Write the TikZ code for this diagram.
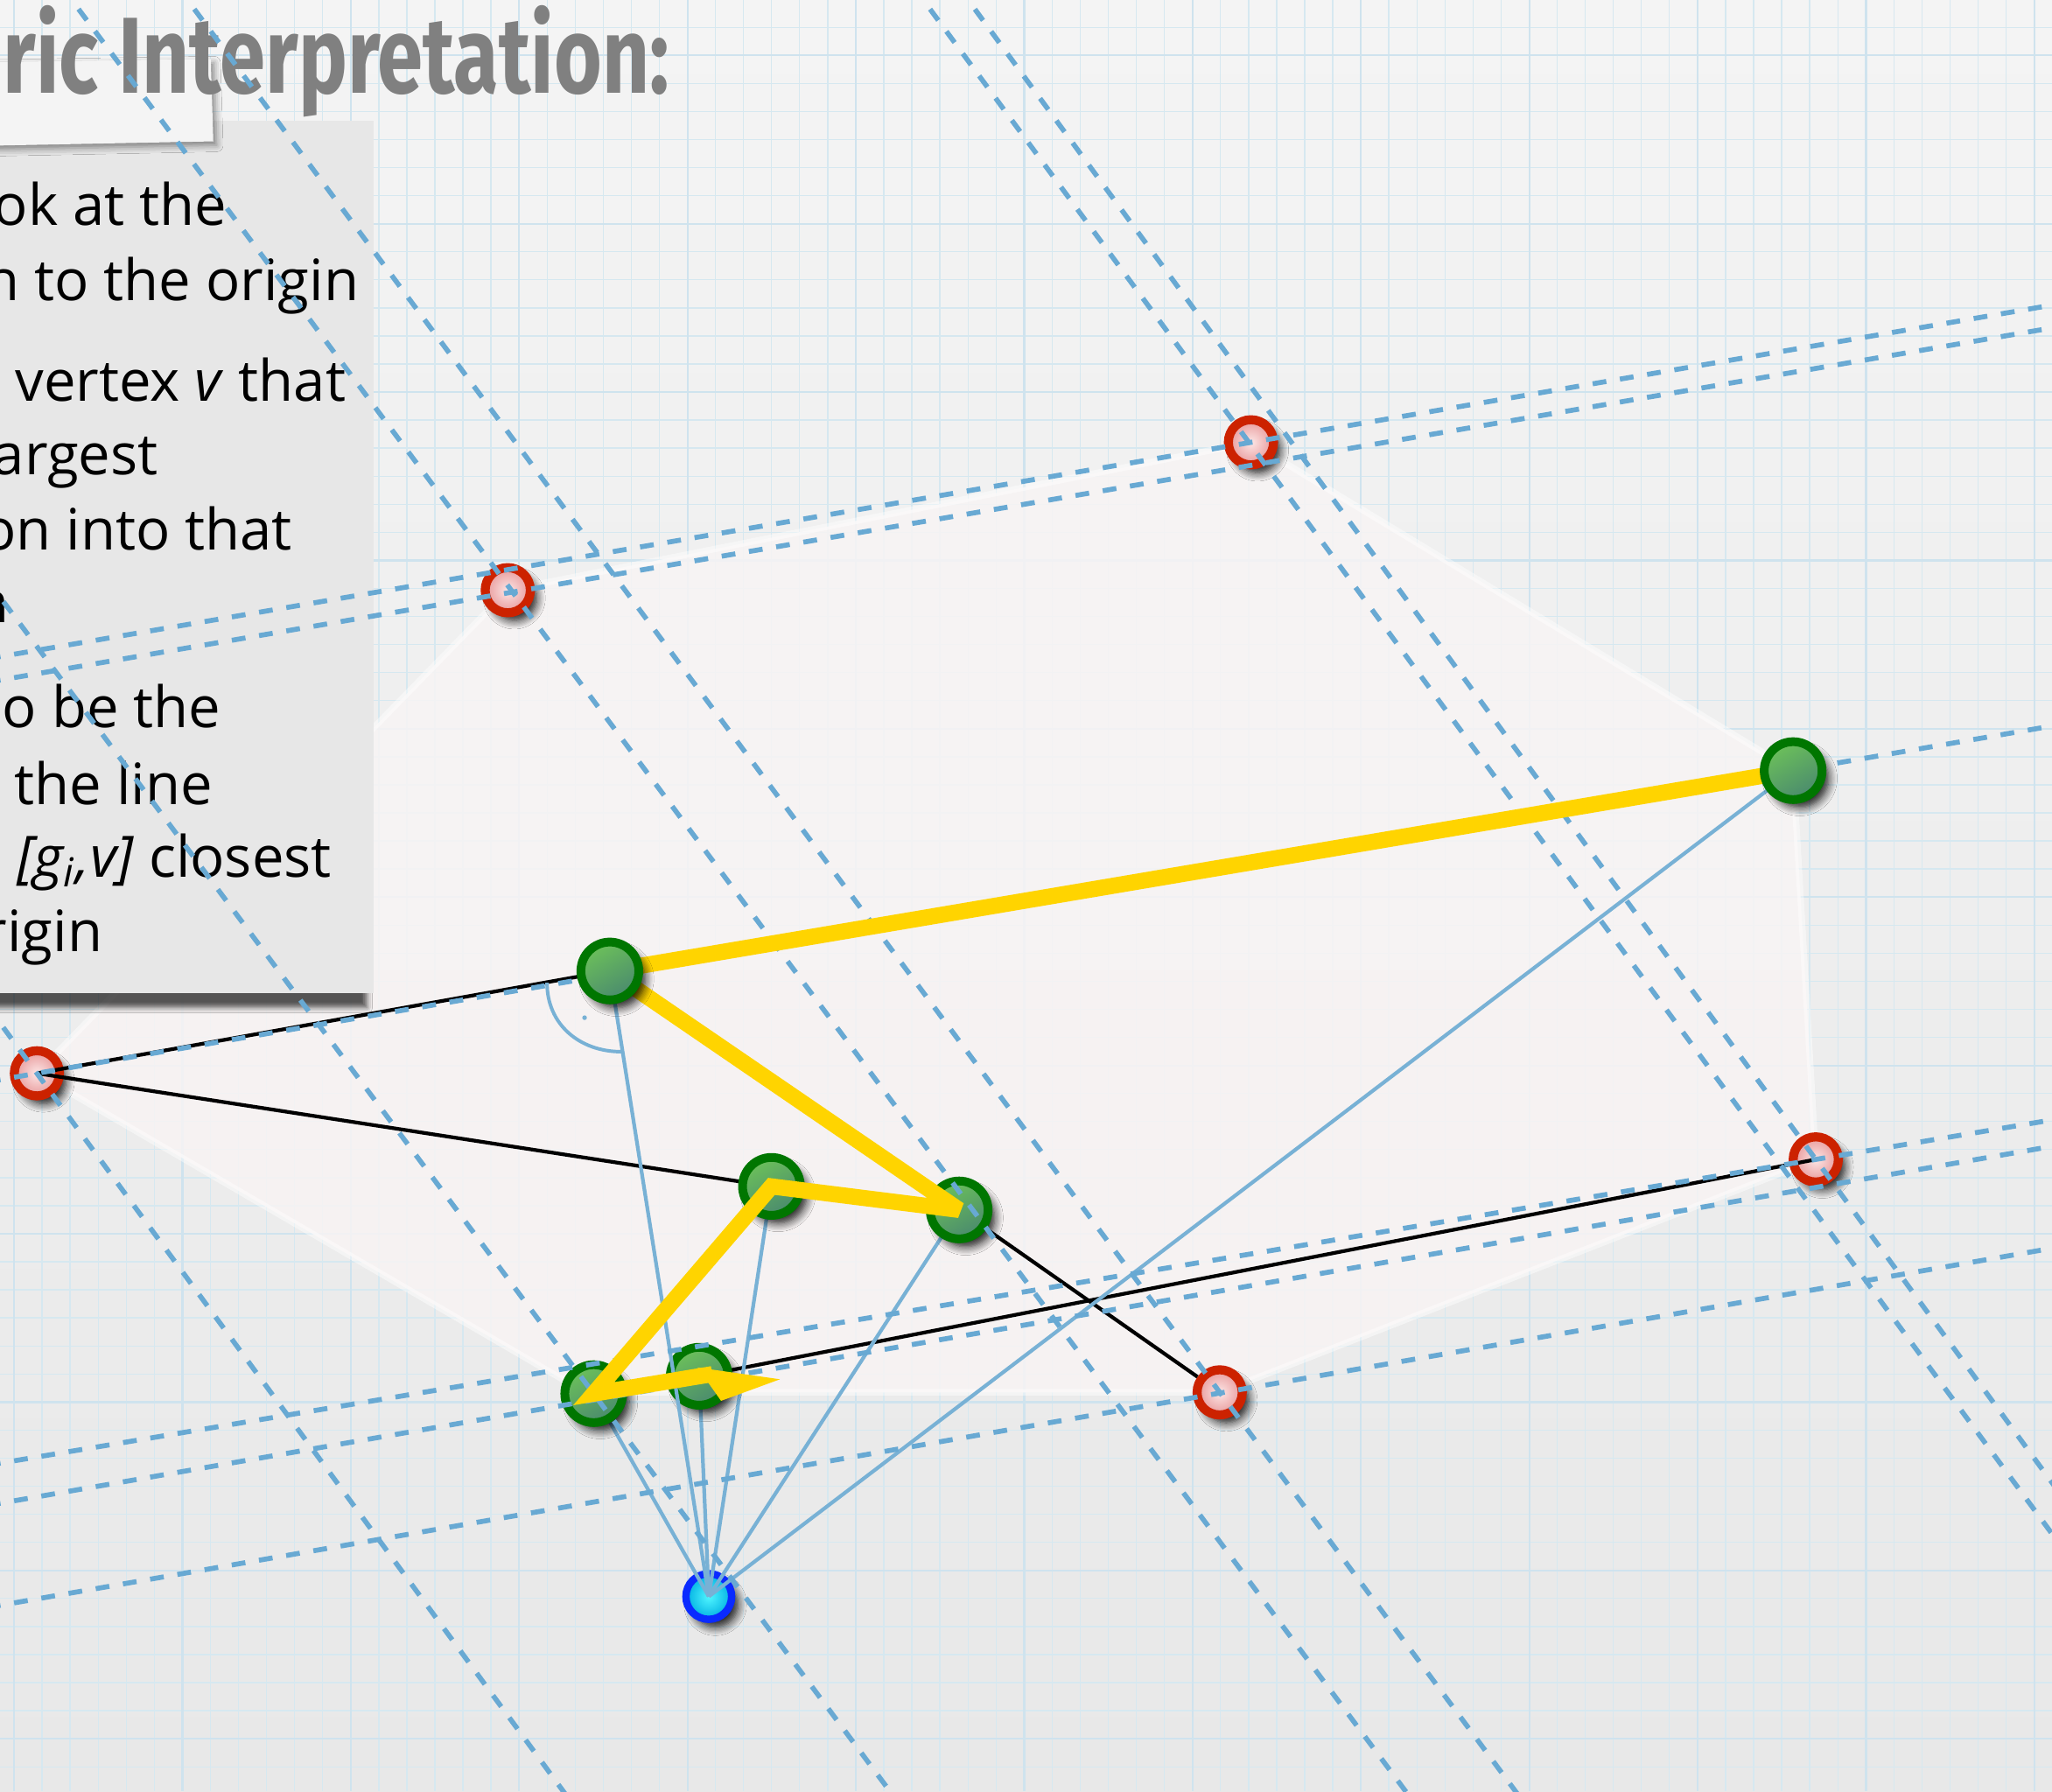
\documentclass[tikz,border=0pt]{standalone}
\usepackage{fontspec}
\newfontfamily\bodyfont{Open Sans}
\newfontfamily\titlefont{Fira Sans}
\usetikzlibrary{shadows.blur}
\definecolor{bgtop}{HTML}{F4F4F4}
\definecolor{bgbot}{HTML}{E8E8E8}
\definecolor{gridminor}{HTML}{D6E8F0}
\definecolor{gridmajor}{HTML}{CFE3EE}
\definecolor{dashblue}{HTML}{68A9D3}
\definecolor{lineblue}{HTML}{78B1D5}
\definecolor{hullfill}{HTML}{F8F4F4}
\definecolor{boxgrey}{HTML}{E7E7E7}
\definecolor{stripcol}{HTML}{F4F4F4}
\definecolor{titlegrey}{HTML}{808080}
\definecolor{gold}{HTML}{FFD400}
\definecolor{gring}{HTML}{007600}
\definecolor{glight}{HTML}{6CC05A}
\definecolor{gdark}{HTML}{4A8A6E}
\definecolor{rring}{HTML}{CC2200}
\definecolor{rlight}{HTML}{FCE6E6}
\definecolor{rdark}{HTML}{E8999A}
\definecolor{bring}{HTML}{0A2AFF}
\definecolor{blight}{HTML}{50F6FF}
\definecolor{bdark}{HTML}{00B0E2}
\begin{document}
\begin{tikzpicture}[x=0.01cm,y=-0.01cm,
  dashline/.style={draw=dashblue, line width=1.08pt, dash pattern=on 3pt off 3pt},
  solidblue/.style={draw=lineblue, line width=0.8pt},
  blackline/.style={draw=black, line width=0.8pt},
  goldpath/.style={draw=gold, line width=3.5pt, line join=miter, miter limit=4},
  nodeshadow/.style={blur shadow={shadow xshift=0.05cm, shadow yshift=-0.06cm, shadow blur radius=0.065cm, shadow opacity=90, shadow blur steps=8}},
  gnode/.style={circle, inner sep=0pt, minimum size=0.442cm, draw=gring, line width=1.9pt, top color=glight, bottom color=gdark, shading angle=30, nodeshadow},
  rnode/.style={circle, inner sep=0pt, minimum size=0.345cm, draw=rring, line width=1.96pt, shading=radial, inner color=rlight, outer color=rdark, nodeshadow},
  bnode/.style={circle, inner sep=0pt, minimum size=0.349cm, draw=bring, line width=1.6pt, shading=radial, inner color=blight, outer color=bdark, nodeshadow},
  bodytext/.style={anchor=base east, inner sep=0pt, font=\bodyfont\fontsize{12.4}{15}\selectfont}
]
\useasboundingbox (0,0) rectangle (1568,1369);
\clip (0,0) rectangle (1568,1369);
% background with graph paper grid
\shade[top color=bgtop, bottom color=bgbot] (0,0) rectangle (1568,1369);
\foreach \i in {0,...,73} \draw[gridminor, line width=0.26pt] ({10.7+21.44*\i},0) -- ({10.7+21.44*\i},1369);
\foreach \i in {0,...,64} \draw[gridminor, line width=0.26pt] (0,{20.86+21.44*\i}) -- (1568,{20.86+21.44*\i});
\foreach \i in {0,...,12} \draw[gridmajor, line width=0.42pt] ({10.7+128.65*\i},0) -- ({10.7+128.65*\i},1369);
\foreach \i in {0,...,10} \draw[gridmajor, line width=0.42pt] (0,{42.3+128.65*\i}) -- (1568,{42.3+128.65*\i});

% point positions
\coordinate (pO) at (541.6,1220);
\coordinate (pG1) at (466,742);
\coordinate (pG2) at (1370.2,588.9);
\coordinate (pG3) at (589.5,906.6);
\coordinate (pG4) at (732.9,924.6);
\coordinate (pG5) at (453.7,1065);
\coordinate (pG6) at (534.3,1051.7);
\coordinate (pR1) at (388,451);
\coordinate (pR2) at (955.9,338);
\coordinate (pR3) at (28.2,820.2);
\coordinate (pR4) at (1387.5,886);
\coordinate (pR5) at (932,1064);
\coordinate (pH) at (447,1064);

% pale hull
\filldraw[fill=hullfill, fill opacity=0.85, draw=white, draw opacity=0.45, line width=1.4pt, line join=round]
  (pR3) -- (pR1) -- (pR2) -- (pG2) -- (pR4) -- (pR5) -- (pH) -- cycle;

% text box
\fill[boxgrey, blur shadow={shadow xshift=-0.05cm, shadow yshift=-0.11cm, shadow blur radius=0.04cm, shadow opacity=65}]
  (-30,92.5) rectangle (285.5,759);
\node[bodytext] (t1) at (174,172) {ok at the};
\node[bodytext] (t2) at (275,229.5) {n to the origin};
\node[bodytext] (t3) at (265,306.5) {vertex \textit{v} that};
\node[bodytext] (t4) at (121.5,362.5) {argest};
\node[bodytext] (t5) at (224,420) {on into that};
\node[bodytext] (t6) at (8,476) {n};
\node[bodytext] (t7) at (169.5,556) {o be the};
\node[bodytext] (t8) at (163,615) {the line};
\node[bodytext] (t9) at (254,670) {\textit{[g\textsubscript{i},v]} closest};
\node[bodytext] (t10) at (79,727) {rigin};

% title strip (over the box) and title
\fill[stripcol, blur shadow={shadow xshift=0.025cm, shadow yshift=-0.03cm, shadow blur radius=0.05cm, shadow opacity=45}]
  (-40,48) -- (161,45) -- (163,108) -- (-40,112) -- cycle;
\node[anchor=base east, inner sep=0pt, text=titlegrey, font=\titlefont\bfseries\fontsize{23.5}{26}\selectfont] (title) at (512,71) {\scalebox{0.76}[1]{ric Interpretation:}};

% red vertices and origin
\node[rnode] (R1) at (pR1) {};
\node[rnode] (R2) at (pR2) {};
\node[rnode] (R3) at (pR3) {};
\node[rnode] (R4) at (pR4) {};
\node[rnode] (R5) at (pR5) {};
\node[bnode] (O) at (pO) {};

% black edges
\draw[blackline] (R3.center) -- (pG1);
\draw[blackline] (R3.center) -- (pG3);
\draw[blackline] (pG4) -- (R5);
\draw[blackline] (pG6) -- (R4.center);

% blue rays from origin
\draw[solidblue] (O.center) -- (pG5);
\draw[solidblue] (O.center) -- (pG6);
\draw[solidblue] (O.center) -- (pG3);
\draw[solidblue] (O.center) -- (pG4);
\draw[solidblue] (O.center) -- (pG2);

% green points (lower ones)
\node[gnode] (G3) at (pG3) {};
\node[gnode] (G4) at (pG4) {};
\node[gnode] (G5) at (pG5) {};
\node[gnode] (G6) at (pG6) {};
\draw[solidblue] (O.center) -- (pG1);

% dashed support lines (end points outside the frame)
\coordinate (s1a) at (-10,826.8);   \coordinate (s1b) at (1580,552.7);
\coordinate (l1a) at (-10,503.5);   \coordinate (l1b) at (1580,231.1);
\coordinate (l2a) at (-10,521.4);   \coordinate (l2b) at (1580,248.5);
\coordinate (m1a) at (-10,1119.8);  \coordinate (m1b) at (1580,853.8);
\coordinate (m2a) at (-10,1150.5);  \coordinate (m2b) at (1580,873.9);
\coordinate (m3a) at (-10,1228.5);  \coordinate (m3b) at (1580,951.8);
\coordinate (aa) at (47.4,-10);     \coordinate (ab) at (1082.4,1380);
\coordinate (ba) at (135.9,-10);    \coordinate (bb) at (1166.3,1380);
\coordinate (ca) at (-10,442.8);    \coordinate (cb) at (688.3,1380);
\coordinate (da) at (-10,768.1);    \coordinate (db) at (438.6,1380);
\coordinate (ua) at (698.2,-10);    \coordinate (ub) at (1580,1188.4);
\coordinate (wa) at (732.5,-10);    \coordinate (wb) at (1580,1149.4);
\foreach \p/\q in {s1a/s1b, l1a/l1b, l2a/l2b, m1a/m1b, m2a/m2b, m3a/m3b, aa/ab, ba/bb, ca/cb, da/db, ua/ub, wa/wb}
  \draw[dashline] (\p) -- (\q);

% yellow path with arrow head
\coordinate (yend) at (544.2,1050.1);
\draw[goldpath] (pG2) -- (pG1) -- (G4.center) -- (G3.center) -- (G5.center) -- (G6.center) -- (yend);
\coordinate (tipA) at (533,1045);
\coordinate (tipB) at (551,1070.5);
\coordinate (tipC) at (596,1054);
\fill[gold] (tipA) -- (tipC) -- (tipB) -- cycle;

% top green points
\node[gnode] (G1) at (pG1) {};
\node[gnode] (G2) at (pG2) {};

% right angle mark
\coordinate (ra1) at (418,751);
\coordinate (ra2) at (475,803.7);
\draw[solidblue, line width=0.75pt] (ra1) .. controls (418,783) and (443,803.7) .. (ra2);
\coordinate (radot) at (446.7,777.7);
\fill[lineblue] (radot) circle (1.8);
\end{tikzpicture}
\end{document}
